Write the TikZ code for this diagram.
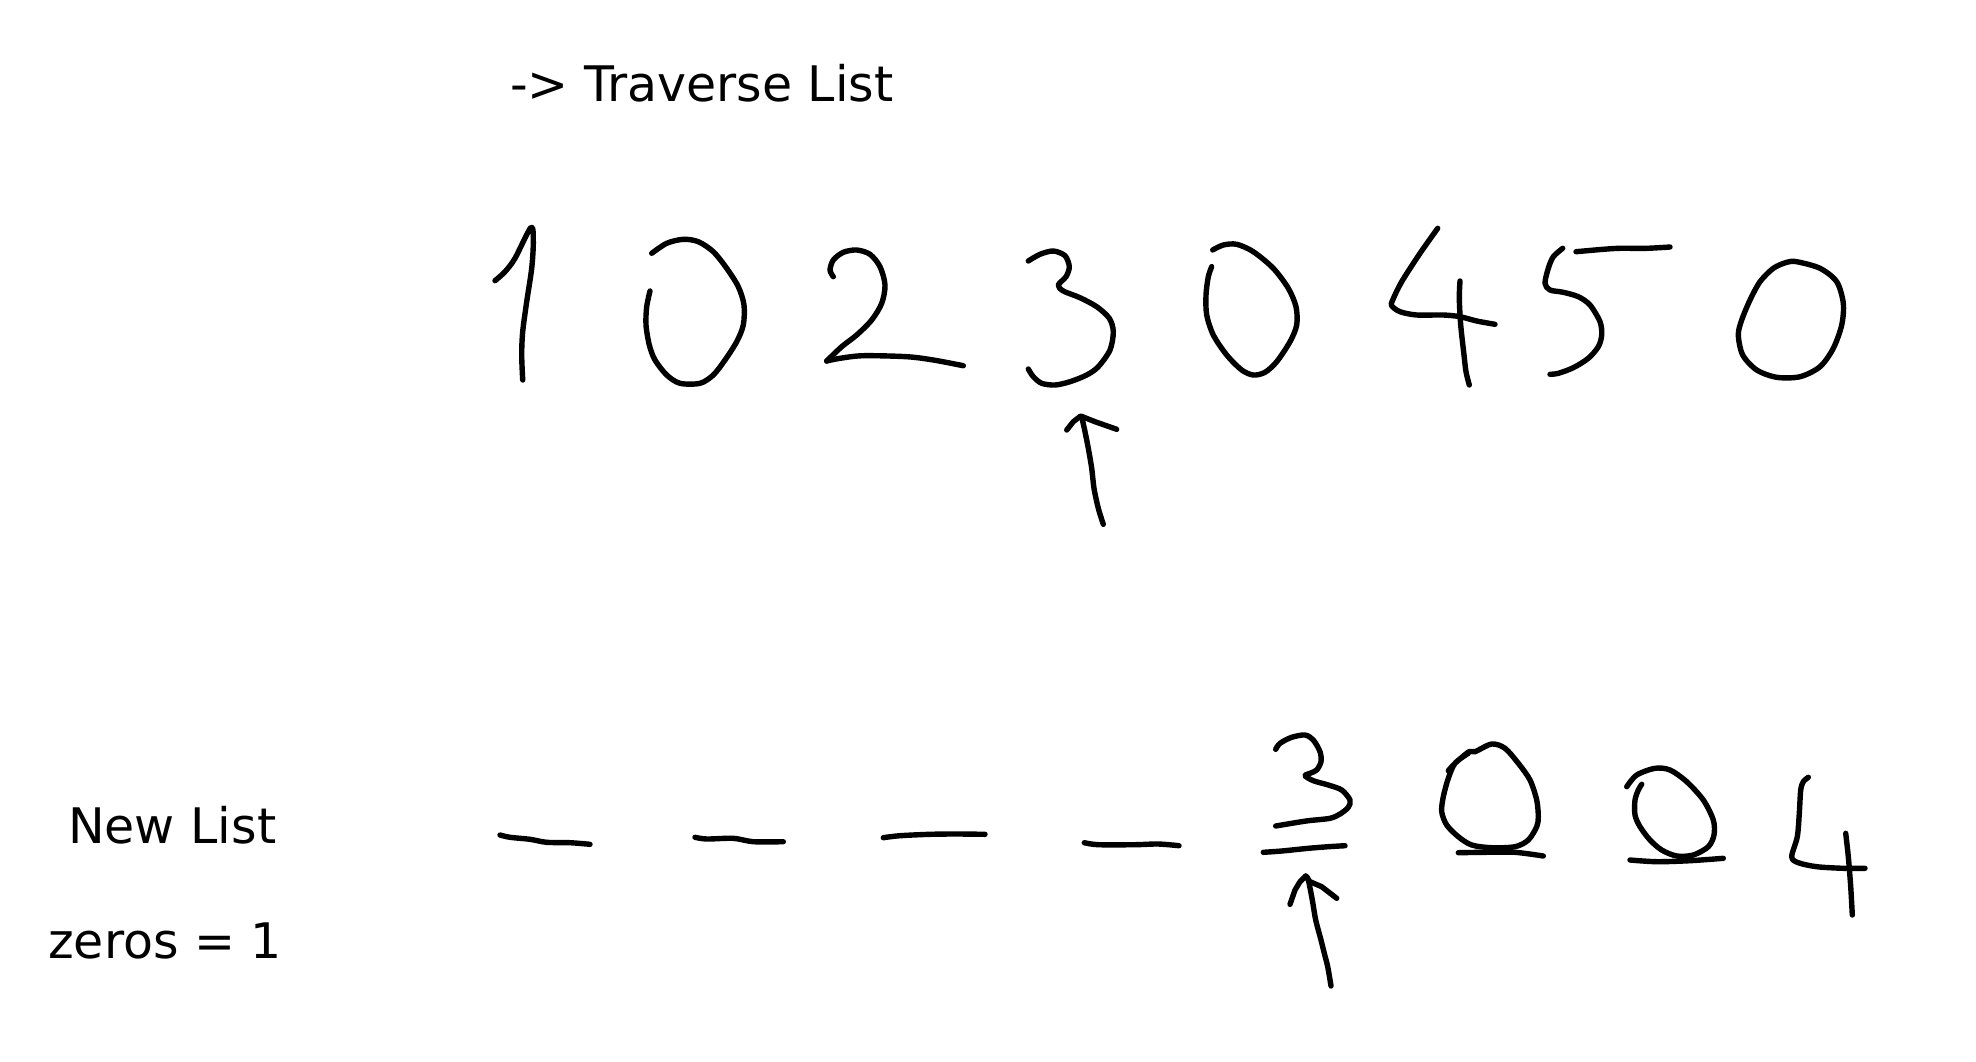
\documentclass[tikz,border=0pt]{standalone}
\usepackage{fontspec}
\setmainfont{DejaVu Sans}
\usepackage{tikz}
\usetikzlibrary{positioning}
\tikzset{
    pen/.style   ={line width=5.4pt, line cap=round, line join=round, black},
    caption/.style={anchor=base west, inner sep=0pt, font=\fontsize{49}{58}\selectfont},
}

\begin{document}
\begin{tikzpicture}[x=1pt, y=-1pt]
        \useasboundingbox (0,0) rectangle (1976,1061);
        % labels
        \node[caption] (trav) at (510,101) {-> Traverse List};
        \node[caption] (newlist) at (68,843) {New List};
        \node[caption] (zeros) at (48,958) {zeros = 1};

        % input list: 1 0 2 3 0 4 5 0
        \draw[pen] plot[smooth, tension=0.5] coordinates {(495,280.7) (505,271.7) (515,258.3) (531,227.3) (533.3,241.7) (531.7,268.3) (526.7,301.7) (522.7,331.7) (521.7,355) (522.7,380)};
        \draw[pen] plot[smooth, tension=0.5] coordinates {(651.7,253.3) (666.7,243.3) (683.3,239.3) (698.3,241.7) (713.3,251.7) (726.7,268.3) (738.3,286.7) (744,305) (743.3,325) (736.7,341.7) (725,360) (713.3,375) (700,383.3) (680,383.3) (666.7,375) (655,360) (649.3,345) (646,325) (646.7,306.7) (650,291)};
        \draw[pen] plot[smooth, tension=0.5] coordinates {(833.3,276.7) (830,270) (833.3,260) (843.3,252.3) (856.7,250) (870,254.3) (880,266.7) (885,285) (881.7,303.3) (871.7,320) (856.7,335) (841.7,346.7) (826.7,361)};
        \draw[pen] plot[smooth, tension=0.5] coordinates {(826.7,361) (840,358.3) (863.3,355.7) (906.7,356.7) (933.3,360) (963.3,365.7)};
        \draw[pen] plot[smooth, tension=0.5] coordinates {(1028.3,261) (1040,254.3) (1053.3,251) (1065,255.7) (1069.3,266.7) (1066,276.7) (1058.3,285) (1063.3,291) (1080,297.7) (1096.7,306.7) (1109.3,318.3) (1113.3,331.7) (1110,350) (1098.3,366.7) (1086.7,375) (1070,381.7) (1055,385) (1041.7,383.3) (1033.3,376.7) (1028.3,369)};
        \draw[pen] plot[smooth, tension=0.5] coordinates {(1212.7,250) (1223.3,245) (1236.7,244.3) (1253.3,251.7) (1273.3,268.3) (1288.3,288.3) (1296,306.7) (1296.7,325) (1290,341.7) (1276.7,361.7) (1265,372.3) (1253.3,375) (1241.7,370) (1226.7,355) (1213.3,335) (1206.7,315) (1206,295) (1208.3,276.7) (1211.7,266.7)};
        \draw[pen] plot[smooth, tension=0.5] coordinates {(1437.7,228.3) (1420,253.3) (1401.7,281.7) (1392.7,300) (1391.7,305.7) (1400,311.7) (1416.7,315) (1443.3,315) (1460,316.7) (1476.7,321) (1495,324.3)};
        \draw[pen] plot[smooth, tension=0.5] coordinates {(1460,281) (1459.3,298.3) (1460.7,325) (1464,355) (1466,371.7) (1469.3,385)};
        \draw[pen] plot[smooth, tension=0.5] coordinates {(1562.7,248.3) (1553.3,256.7) (1548.3,268.3) (1545,283.3) (1550,290) (1563.3,292.3) (1578.3,296.7) (1590,305) (1600,321.7) (1601.7,335) (1598.3,346.7) (1588.3,358.3) (1573.3,367.7) (1558.3,373.3) (1550,374.3)};
        \draw[pen] plot[smooth, tension=0.5] coordinates {(1576,251.7) (1603.3,249.3) (1620,248.3) (1646.7,248.3) (1670,247)};
        \draw[pen] plot[smooth cycle, tension=0.5] coordinates {(1796.7,261.7) (1820,268.3) (1836.7,281.7) (1843.3,303.3) (1841.7,325) (1833.3,348.3) (1820,366.7) (1800,376.7) (1776.7,377.3) (1756.7,370) (1742.7,355) (1738.3,335) (1741.7,320) (1750,300) (1760,281.7) (1773.3,268.3) (1786.7,262.3)};

        % pointer under 3
        \draw[pen] plot[smooth, tension=0.5] coordinates {(1103.3,524.3) (1098.3,508.3) (1094,488.3) (1091.7,468.3) (1088.3,448.3) (1085,431.7) (1081.7,416.7)};
        \draw[pen] (1066.7,430) -- (1073.3,421.7) -- (1080.7,416) -- (1095,421.7) -- (1116.7,429.3);

        % new list: blanks
        \draw[pen] plot[smooth, tension=0.5] coordinates {(500,835) (510,837.3) (530,839.3) (546.7,842.3) (570,842.7) (590,844.3)};
        \draw[pen] plot[smooth, tension=0.5] coordinates {(695,837.3) (706.7,839) (733.3,838.3) (753.3,841.7) (783.3,841.7)};
        \draw[pen] plot[smooth, tension=0.5] coordinates {(883.3,837.7) (900,835.7) (930,834.3) (956.7,834) (985,834.3)};
        \draw[pen] plot[smooth, tension=0.5] coordinates {(1084.3,842.7) (1098.3,844.7) (1135,844.7) (1158.3,844) (1179,845.7)};

        % new list: 3 0 0 4
        \draw[pen] plot[smooth, tension=0.5] coordinates {(1275.7,749.3) (1280,743.3) (1291.7,737.3) (1305,735) (1313.3,740) (1320,751.7) (1321,761.7) (1316.7,770) (1310,773.3) (1305,775.7) (1313.3,780.7) (1328.3,785) (1341.7,790) (1350,800) (1348.3,807.3) (1340,814) (1330,818.3) (1308.3,820.7) (1291.7,823.3) (1275.7,826)};
        \draw[pen] plot[smooth, tension=0.5] coordinates {(1263.3,852.3) (1281.7,851) (1308.3,848.3) (1328.3,846.7) (1345,845.7)};
        \draw[pen] plot[smooth, tension=0.5] coordinates {(1448.3,770.7) (1455,763.3) (1469,751.7) (1475,751.7) (1491.7,744) (1505,748.3) (1518.3,763.3) (1530,780) (1536.7,800) (1538.3,816.7) (1536.7,826.7) (1528.3,840) (1515,846.7) (1491.7,847.7) (1471.7,845) (1458.3,836.7) (1446.7,825) (1441.7,811.7) (1443.3,796.7) (1448.3,778.3) (1455,763.3) (1468.3,753.3)};
        \draw[pen] plot[smooth, tension=0.5] coordinates {(1458.3,852.7) (1485,852.3) (1515,852.3) (1543.3,856)};
        \draw[pen] plot[smooth, tension=0.5] coordinates {(1626.7,786.7) (1636.7,775) (1655,768.3) (1670,770) (1686.7,781.7) (1703.3,800) (1713.3,820) (1714,835) (1708.3,846.7) (1693.3,855) (1676.7,856) (1661.7,850) (1650,840) (1640,826.7) (1635,815) (1635,800) (1638.3,790) (1641.7,784.3)};
        \draw[pen] plot[smooth, tension=0.5] coordinates {(1630,860) (1656.7,861.7) (1690,860.7) (1723.3,858.3)};
        \draw[pen] plot[smooth, tension=0.5] coordinates {(1808.3,777.3) (1803.3,781.7) (1800.7,790) (1799.3,813.3) (1797.3,836.7) (1791.7,856.7) (1798.3,862.7) (1816.7,866.7) (1843.3,868.3) (1865,868.3)};
        \draw[pen] plot[smooth, tension=0.5] coordinates {(1845.7,833.3) (1848.3,856.7) (1850.7,886.7) (1852.3,915)};

        % pointer under new 3
        \draw[pen] plot[smooth, tension=0.5] coordinates {(1331,986) (1327.7,966.7) (1324.3,953.3) (1321,940) (1315.7,920) (1312.3,900) (1308.3,880) (1305.7,876)};
        \draw[pen] (1290,904.3) -- (1295,890) -- (1300,881.7) -- (1305.7,876) -- (1310,881.7) -- (1321.7,886.7) -- (1336.7,898.3);
\end{tikzpicture}
\end{document}
